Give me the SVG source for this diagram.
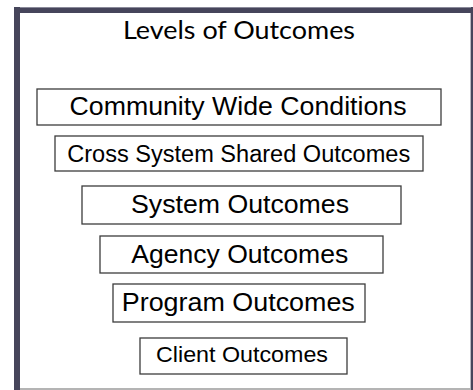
<svg xmlns="http://www.w3.org/2000/svg" width="473" height="390" viewBox="0 0 473 390">
  <style>
    .box { fill: #ffffff; stroke: #3c3c3c; stroke-width: 1.3; }
    .lbl { font-family: "Liberation Sans", Arial, sans-serif; fill: #000000; text-anchor: middle; }
    .title { font-family: Lato, "Open Sans", sans-serif; fill: #000000; text-anchor: middle; font-size: 25px; }
    .frame { fill: #46455b; }
  </style>
  <rect x="0" y="0" width="473" height="390" fill="#ffffff"/>
  <g id="frame">
    <rect class="frame" x="14" y="7" width="459" height="6"/>
    <rect x="14" y="7" width="459" height="1" fill="#8a8a9a"/>
    <rect class="frame" x="14" y="7" width="6" height="383"/>
    <rect class="frame" x="471" y="7" width="2" height="383"/>
    <rect x="470" y="13" width="1" height="377" fill="#b8b8c0"/>
    <rect x="20" y="388" width="451" height="2" fill="#b4b4b4"/>
  </g>
  <g id="title">
    <text class="title" x="239" y="38.5" textLength="232" lengthAdjust="spacingAndGlyphs">Levels of Outcomes</text>
  </g>
  <g id="community">
    <rect class="box" x="37" y="89" width="404" height="36"/>
    <text class="lbl" x="238" y="115" font-size="26" textLength="337" lengthAdjust="spacingAndGlyphs">Community Wide Conditions</text>
  </g>
  <g id="cross-system">
    <rect class="box" x="55" y="136" width="368" height="35"/>
    <text class="lbl" x="238.7" y="162" font-size="23" textLength="343" lengthAdjust="spacingAndGlyphs">Cross System Shared Outcomes</text>
  </g>
  <g id="system">
    <rect class="box" x="82" y="186" width="319" height="38"/>
    <text class="lbl" x="240" y="212.5" font-size="25" textLength="218" lengthAdjust="spacingAndGlyphs">System Outcomes</text>
  </g>
  <g id="agency">
    <rect class="box" x="100" y="236" width="283" height="37"/>
    <text class="lbl" x="239.7" y="262.5" font-size="25" textLength="217" lengthAdjust="spacingAndGlyphs">Agency Outcomes</text>
  </g>
  <g id="program">
    <rect class="box" x="113" y="284" width="252" height="38"/>
    <text class="lbl" x="238.3" y="311" font-size="25" textLength="233" lengthAdjust="spacingAndGlyphs">Program Outcomes</text>
  </g>
  <g id="client">
    <rect class="box" x="140" y="338" width="207" height="36"/>
    <text class="lbl" x="242" y="362" font-size="22" textLength="172" lengthAdjust="spacingAndGlyphs">Client Outcomes</text>
  </g>
  <g id="connectors"/>
</svg>
